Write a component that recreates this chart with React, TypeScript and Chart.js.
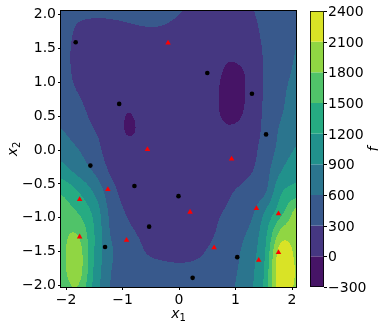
import React, { useEffect, useRef } from 'react';
import { Chart, registerables } from 'chart.js';

Chart.register(...registerables);

// ---- data ----
const xGrid = [-2.1, -1.8, -1.5, -1.2, -0.9, -0.6, -0.3, 0, 0.3, 0.6, 0.9, 1.2, 1.5, 1.8, 2.1];
const yGrid = [2.1, 1.8, 1.5, 1.2, 0.9, 0.6, 0.3, 0, -0.3, -0.6, -0.9, -1.2, -1.5, -1.8, -2.1];
// f values on the grid, one row per yGrid entry (top to bottom)
const fRow0 = [450, 380, 350, 350, 360, 370, 380, 320, 260, 230, 250, 280, 340, 420, 520];
const fRow1 = [420, 280, 250, 260, 280, 295, 290, 250, 210, 190, 200, 240, 330, 420, 560];
const fRow2 = [380, 250, 220, 220, 230, 230, 220, 200, 170, 140, 90, 180, 315, 440, 610];
const fRow3 = [360, 260, 200, 180, 180, 180, 170, 150, 120, 100, -40, 40, 310, 470, 650];
const fRow4 = [380, 290, 180, 150, 150, 160, 160, 140, 110, 70, -120, 20, 310, 520, 720];
const fRow5 = [500, 370, 230, 160, 15, 120, 140, 120, 90, 60, -100, 40, 330, 560, 780];
const fRow6 = [610, 450, 300, 200, -30, 90, 130, 110, 80, 70, 30, 100, 350, 640, 850];
const fRow7 = [780, 620, 400, 180, 100, 100, 110, 100, 80, 80, 90, 160, 400, 700, 940];
const fRow8 = [1030, 810, 560, 250, 130, 100, 100, 90, 80, 100, 130, 240, 450, 880, 1150];
const fRow9 = [1450, 1200, 850, 400, 180, 110, 100, 100, 110, 140, 270, 380, 520, 1150, 1300];
const fRow10 = [1650, 1480, 1100, 500, 260, 130, 110, 120, 150, 240, 340, 430, 870, 1380, 1900];
const fRow11 = [1720, 1760, 1200, 560, 360, 230, 150, 150, 190, 280, 430, 600, 1050, 1850, 1950];
const fRow12 = [1700, 1950, 1200, 640, 450, 300, 230, 200, 250, 350, 450, 720, 1130, 2250, 2000];
const fRow13 = [1680, 1950, 1150, 600, 440, 400, 390, 380, 380, 440, 520, 760, 1200, 2350, 2050];
const fRow14 = [1600, 1750, 1100, 560, 460, 430, 420, 420, 420, 470, 560, 780, 1230, 2280, 2000];
const fRows = [fRow0, fRow1, fRow2, fRow3, fRow4, fRow5, fRow6, fRow7, fRow8, fRow9, fRow10, fRow11, fRow12, fRow13, fRow14];

const levels = [-300, 0, 300, 600, 900, 1200, 1500, 1800, 2100, 2400];
const levelColors = ['#461466', '#453781', '#38598c', '#2b758e', '#21918c', '#26ab82', '#50c369', '#90d643', '#d9e326'];

const blackX = [-1.83, -1.06, 0.5, 1.29, 1.54, -1.57, -0.79, -0.01, -0.53, -1.31, 1.03, 0.24];
const blackY = [1.59, 0.68, 1.135, 0.83, 0.23, -0.23, -0.53, -0.68, -1.13, -1.43, -1.58, -1.885];
const redX = [-0.195, -0.56, 0.93, -1.26, -1.76, -1.76, -0.93, 0.195, 0.62, 1.37, 1.76, 1.76, 1.41];
const redY = [1.58, 0.01, -0.13, -0.58, -0.73, -1.28, -1.33, -0.915, -1.44, -0.86, -0.94, -1.51, -1.625];

const xTicks = [-2, -1, 0, 1, 2];
const yTicks = [-2, -1.5, -1, -0.5, 0, 0.5, 1, 1.5, 2];
const cbTicks = [-300, 0, 300, 600, 900, 1200, 1500, 1800, 2100, 2400];

const FONT = "'DejaVu Sans', sans-serif";

function minus(s: string) {
  return s.replace('-', '\u2212');
}

function cubic(p0: number, p1: number, p2: number, p3: number, t: number) {
  return p1 + 0.5 * t * (p2 - p0 + t * (2 * p0 - 5 * p1 + 4 * p2 - p3 + t * (3 * (p1 - p2) + p3 - p0)));
}

function sampleField(x: number, y: number) {
  const nx = xGrid.length;
  const ny = yGrid.length;
  const u = (x - xGrid[0]) / (xGrid[1] - xGrid[0]);
  const v = (y - yGrid[0]) / (yGrid[1] - yGrid[0]);
  const i = Math.max(0, Math.min(nx - 2, Math.floor(u)));
  const j = Math.max(0, Math.min(ny - 2, Math.floor(v)));
  const tu = u - i;
  const tv = v - j;
  const g = (a: number, b: number) =>
    fRows[Math.max(0, Math.min(ny - 1, b))][Math.max(0, Math.min(nx - 1, a))];
  const r: number[] = [];
  for (let k = -1; k <= 2; k++) {
    r.push(cubic(g(i - 1, j + k), g(i, j + k), g(i + 1, j + k), g(i + 2, j + k), tu));
  }
  return cubic(r[0], r[1], r[2], r[3], tv);
}

function hexToRgb(h: string) {
  return [parseInt(h.slice(1, 3), 16), parseInt(h.slice(3, 5), 16), parseInt(h.slice(5, 7), 16)];
}

const contourPlugin = {
  id: 'contourFill',
  beforeDatasetsDraw(chart: any) {
    const { ctx, chartArea } = chart;
    const xs = chart.scales.x;
    const ys = chart.scales.y;
    const left = Math.round(chartArea.left);
    const top = Math.round(chartArea.top);
    const w = Math.round(chartArea.right) - left;
    const h = Math.round(chartArea.bottom) - top;
    const off = document.createElement('canvas');
    off.width = w;
    off.height = h;
    const octx = off.getContext('2d')!;
    const img = octx.createImageData(w, h);
    const rgbs = levelColors.map(hexToRgb);
    for (let py = 0; py < h; py++) {
      const yv = ys.getValueForPixel(top + py + 0.5);
      for (let px = 0; px < w; px++) {
        const xv = xs.getValueForPixel(left + px + 0.5);
        const f = sampleField(xv, yv);
        let k = 0;
        for (let q = 0; q < levels.length - 1; q++) {
          if (f >= levels[q]) k = q;
        }
        const c = rgbs[k];
        const o = (py * w + px) * 4;
        img.data[o] = c[0];
        img.data[o + 1] = c[1];
        img.data[o + 2] = c[2];
        img.data[o + 3] = 255;
      }
    }
    octx.putImageData(img, 0, 0);
    ctx.save();
    ctx.drawImage(off, left, top);
    ctx.restore();
  },
  afterDatasetsDraw(chart: any) {
    const { ctx, chartArea } = chart;
    ctx.save();
    ctx.strokeStyle = '#000';
    ctx.lineWidth = 1;
    ctx.strokeRect(
      Math.round(chartArea.left) - 0.5,
      Math.round(chartArea.top) - 0.5,
      Math.round(chartArea.right) - Math.round(chartArea.left) + 1,
      Math.round(chartArea.bottom) - Math.round(chartArea.top) + 1
    );
    ctx.restore();
  },
  afterDraw(chart: any) {
    const { ctx, chartArea } = chart;
    const cb = chart.scales.cb;
    const cx0 = 310;
    const cx1 = 324;
    ctx.save();
    for (let i = 0; i < levels.length - 1; i++) {
      const yTop = cb.getPixelForValue(levels[i + 1]);
      const yBot = cb.getPixelForValue(levels[i]);
      ctx.fillStyle = levelColors[i];
      ctx.fillRect(cx0, yTop, cx1 - cx0, yBot - yTop);
    }
    const t = cb.getPixelForValue(levels[levels.length - 1]);
    const b = cb.getPixelForValue(levels[0]);
    ctx.strokeStyle = '#000';
    ctx.lineWidth = 0.8;
    ctx.strokeRect(cx0 + 0.5, Math.round(t) + 0.5, cx1 - cx0 - 1, Math.round(b) - Math.round(t) - 1);
    ctx.fillStyle = '#000';
    ctx.font = `14px ${FONT}`;
    ctx.textAlign = 'left';
    ctx.textBaseline = 'middle';
    ctx.lineWidth = 1;
    for (const v of cbTicks) {
      const y = Math.round(cb.getPixelForValue(v)) + 0.5;
      ctx.beginPath();
      ctx.moveTo(cx1, y);
      ctx.lineTo(cx1 + 3, y);
      ctx.stroke();
      ctx.fillText(minus(String(v)), cx1 + 4, y + 0.5);
    }
    // colorbar label "f"
    ctx.save();
    ctx.translate(378, (t + b) / 2);
    ctx.rotate(-Math.PI / 2);
    ctx.font = `italic 14px ${FONT}`;
    ctx.textAlign = 'center';
    ctx.textBaseline = 'alphabetic';
    ctx.fillText('f', 0, 0);
    ctx.restore();

    // axis labels x1, x2
    const drawSubLabel = (main: string, sub: string) => {
      ctx.font = `italic 14px ${FONT}`;
      const w1 = ctx.measureText(main).width;
      ctx.font = `10px ${FONT}`;
      const w2 = ctx.measureText(sub).width;
      const x0 = -(w1 + w2) / 2;
      ctx.font = `italic 14px ${FONT}`;
      ctx.textAlign = 'left';
      ctx.textBaseline = 'alphabetic';
      ctx.fillText(main, x0, 0);
      ctx.font = `10px ${FONT}`;
      ctx.fillText(sub, x0 + w1, 3);
    };
    const cxm = (chartArea.left + chartArea.right) / 2;
    ctx.save();
    ctx.translate(cxm, 318);
    drawSubLabel('x', '1');
    ctx.restore();
    ctx.save();
    ctx.translate(17, (chartArea.top + chartArea.bottom) / 2);
    ctx.rotate(-Math.PI / 2);
    drawSubLabel('x', '2');
    ctx.restore();
    ctx.restore();
  },
};

export default function App() {
  const ref = useRef<HTMLCanvasElement | null>(null);
  useEffect(() => {
    if (!ref.current) return;
    const chart = new Chart(ref.current, {
      type: 'scatter',
      data: {
        datasets: [
          {
            label: 'black',
            data: blackX.map((x, i) => ({ x, y: blackY[i] })),
            backgroundColor: '#000000',
            borderWidth: 0,
            pointRadius: 2.3,
            pointStyle: 'circle',
          },
          {
            label: 'red',
            data: redX.map((x, i) => ({ x, y: redY[i] })),
            backgroundColor: '#ff0000',
            borderWidth: 0,
            pointRadius: 3.2,
            pointStyle: 'triangle',
          },
        ],
      },
      options: {
        responsive: false,
        animation: false,
        events: [],
        layout: { padding: { left: 0, right: 94, top: 11, bottom: 0 } },
        plugins: { legend: { display: false }, tooltip: { enabled: false } },
        scales: {
          x: {
            type: 'linear',
            min: -2.09,
            max: 2.07,
            afterFit: (s: any) => {
              s.height = 41;
            },
            afterBuildTicks: (s: any) => {
              s.ticks = xTicks.map((v) => ({ value: v }));
            },
            grid: { display: true, drawOnChartArea: false, drawTicks: true, tickLength: 3, color: '#000', lineWidth: 1 },
            border: { display: false },
            ticks: {
              color: '#000',
              padding: 2,
              font: { family: FONT, size: 14 },
              maxRotation: 0,
              autoSkip: false,
              callback: (v: any) => minus(String(Math.round(Number(v)))),
            },
          },
          y: {
            type: 'linear',
            min: -2.02,
            max: 2.05,
            afterFit: (s: any) => {
              s.width = 61;
            },
            afterBuildTicks: (s: any) => {
              s.ticks = yTicks.map((v) => ({ value: v }));
            },
            grid: { display: true, drawOnChartArea: false, drawTicks: true, tickLength: 3, color: '#000', lineWidth: 1 },
            border: { display: false },
            ticks: {
              color: '#000',
              padding: 2,
              font: { family: FONT, size: 14 },
              autoSkip: false,
              callback: (v: any) => minus(Number(v).toFixed(1)),
            },
          },
          cb: {
            type: 'linear',
            position: 'right',
            display: false,
            min: -300,
            max: 2400,
          },
        },
      } as any,
      plugins: [contourPlugin],
    });
    return () => chart.destroy();
  }, []);
  return (
    <div style={{ position: 'fixed', left: 0, top: 0, width: 390, height: 328, background: '#fff' }}>
      <canvas ref={ref} width={390} height={328} style={{ display: 'block' }} />
    </div>
  );
}
